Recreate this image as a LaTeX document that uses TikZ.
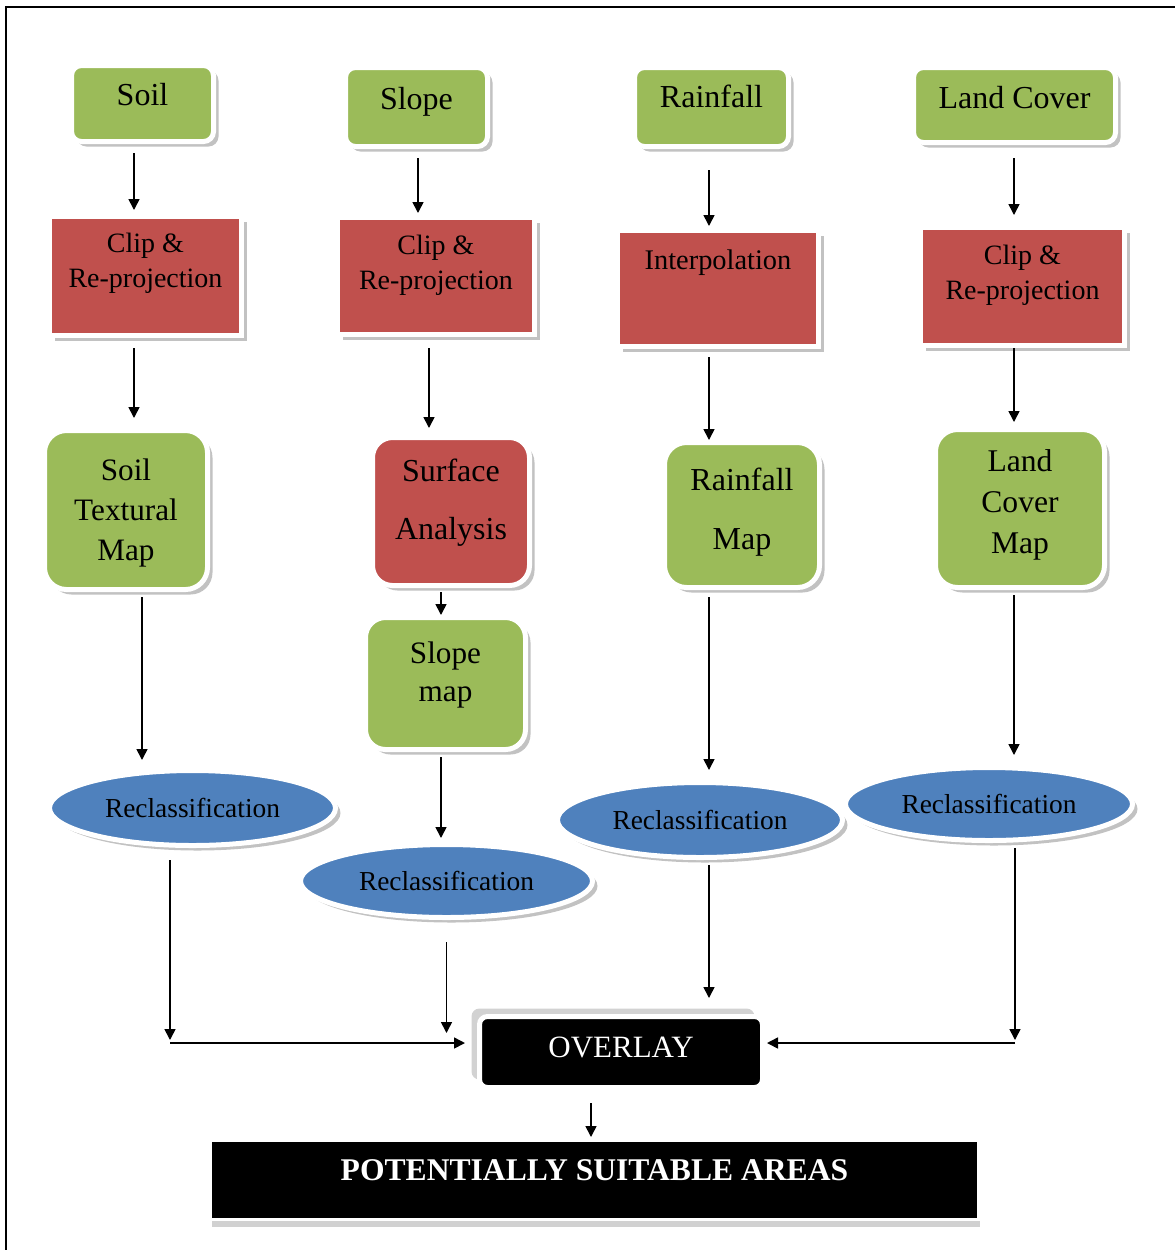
\documentclass[tikz,border=0pt]{standalone}
\usepackage{fontspec}
\setmainfont{Liberation Serif}
\usetikzlibrary{shapes.geometric,shadows,arrows.meta}
\definecolor{boxgreen}{HTML}{9BBB59}
\definecolor{boxred}{HTML}{C0504D}
\definecolor{boxblue}{HTML}{4F81BD}

\begin{document}
\begin{tikzpicture}[
    x=0.5pt, y=-0.5pt,
    base/.style={draw=white, line width=2.5pt, fill=#1, inner sep=0pt},
    box/.style={base=#1, drop shadow={shadow xshift=2.5pt, shadow yshift=-2.5pt,
                fill=black!40, opacity=.6}},
    gbox/.style={box=boxgreen, rounded corners=5pt},
    mbox/.style={box=boxgreen, rounded corners=11pt},
    rbox/.style={box=boxred},
    oval/.style={box=boxblue, ellipse, font=\fontsize{13.7}{16}\selectfont},
    txt/.style={align=center, inner sep=0pt, font=\fontsize{16}{19}\selectfont},
    arr/.style={-{Triangle[length=5.5pt,width=5.5pt]}, line width=0.8pt},
]
\useasboundingbox (0,0) rectangle (1175,1250);
\draw[line width=1pt] (6,1250) -- (6,7) -- (1175,7);

% inputs
\node[gbox, minimum width=71pt, minimum height=38pt,
      label={[txt, yshift=4.25pt]center:Soil}] (soil) at (142.5,103.5) {};
\node[gbox, minimum width=71pt, minimum height=39.5pt,
      label={[txt, yshift=2.5pt]center:Slope}] (slope) at (416.5,107) {};
\node[gbox, minimum width=77pt, minimum height=39.5pt,
      label={[txt, yshift=5.25pt]center:Rainfall}] (rain) at (711.5,107) {};
\node[gbox, minimum width=101pt, minimum height=37.5pt,
      label={[txt, yshift=3.75pt]center:Land Cover}] (land) at (1014.5,105) {};

% pre-processing
\node[rbox, minimum width=96pt, minimum height=59.5pt,
      label={[txt, font=\fontsize{14}{17.5}\selectfont, yshift=6.25pt]center:{Clip \&\\Re-projection}}]
      (clip1) at (145.5,276) {};
\node[rbox, minimum width=98.5pt, minimum height=58.5pt,
      label={[txt, font=\fontsize{14}{17.5}\selectfont, yshift=5.5pt]center:{Clip \&\\Re-projection}}]
      (clip2) at (436,276) {};
\node[rbox, minimum width=100.5pt, minimum height=58pt,
      label={[txt, font=\fontsize{14.2}{17}\selectfont, yshift=13pt]center:Interpolation}]
      (interp) at (718,288.5) {};
\node[rbox, minimum width=102pt, minimum height=59pt,
      label={[txt, font=\fontsize{14}{17.5}\selectfont, yshift=5.75pt]center:{Clip \&\\Re-projection}}]
      (clip4) at (1022.5,286.5) {};

% maps
\node[mbox, minimum width=81.5pt, minimum height=79.5pt,
      label={[txt, font=\fontsize{15.6}{20}\selectfont, yshift=-1.5pt]center:{Soil\\Textural\\Map}}]
      (soilmap) at (126,510) {};
\node[rbox, rounded corners=10pt, minimum width=78.5pt, minimum height=74pt,
      label={[txt, font=\fontsize{16}{29}\selectfont, yshift=4.5pt]center:{Surface\\Analysis}}]
      (surface) at (451,511.5) {};
\node[mbox, rounded corners=10pt, minimum width=80pt, minimum height=66pt,
      label={[txt, font=\fontsize{15.6}{19}\selectfont, yshift=4.25pt]center:{Slope\\map}}]
      (slopemap) at (445.5,683.5) {};
\node[mbox, minimum width=77.5pt, minimum height=72.5pt,
      label={[txt, font=\fontsize{16}{29.5}\selectfont, yshift=1.5pt]center:{Rainfall\\Map}}]
      (rainmap) at (742,515) {};
\node[mbox, minimum width=84.5pt, minimum height=79pt,
      label={[txt, font=\fontsize{15.8}{20.5}\selectfont, yshift=1.75pt]center:{Land\\Cover\\Map}}]
      (landmap) at (1020,508.5) {};

% reclassification
\node[oval, minimum width=143pt, minimum height=37.5pt] (recl1) at (192.5,808) {Reclassification};
\node[oval, minimum width=146pt, minimum height=36.5pt] (recl2) at (446.5,881) {Reclassification};
\node[oval, minimum width=142.5pt, minimum height=37.5pt] (recl3) at (700,820) {Reclassification};
\node[oval, minimum width=143.5pt, minimum height=36.5pt] (recl4) at (989,804) {Reclassification};

% result
\node[base=black, rounded corners=4pt, minimum width=141.5pt, minimum height=35.5pt,
      drop shadow={shadow xshift=-4pt, shadow yshift=4pt, fill=black!35, opacity=.5},
      label={[txt, text=white, font=\fontsize{15.5}{18}\selectfont, yshift=2.25pt]center:OVERLAY}]
      (overlay) at (621,1052) {};
\node[base=black, line width=1.5pt, minimum width=384pt, minimum height=39.5pt,
      drop shadow={shadow xshift=0.5pt, shadow yshift=-3.5pt, fill=black!30, opacity=.6},
      label={[txt, text=white, font=\bfseries\fontsize{15.8}{18}\selectfont, yshift=5pt]center:POTENTIALLY SUITABLE AREAS}]
      (psa) at (594.5,1180) {};

\coordinate (cl) at (170,1043);
\coordinate (cr) at (1015,1043);

\draw[arr, shorten <=4.5pt, shorten >=2pt]   (soil.south -| 134,0)    -- (clip1.north -| 134,0);
\draw[arr, shorten <=4.5pt, shorten >=1pt]   (slope.south -| 418,0)   -- (clip2.north -| 418,0);
\draw[arr, shorten <=10.5pt, shorten >=1pt]  (rain.south -| 709,0)    -- (interp.north -| 709,0);
\draw[arr, shorten <=6.5pt, shorten >=5pt]   (land.south -| 1014,0)   -- (clip4.north -| 1014,0);
\draw[arr, shorten <=5pt, shorten >=5pt]     (clip1.south -| 134,0)   -- (soilmap.north -| 134,0);
\draw[arr, shorten <=5.5pt, shorten >=3.5pt] (clip2.south -| 429,0)   -- (surface.north -| 429,0);
\draw[arr, shorten <=4pt]                    (interp.south -| 709,0)  -- (rainmap.north -| 709,0);
\draw[arr, shorten >=2.5pt]                  (clip4.south -| 1014,0)  -- (landmap.north -| 1014,0);
\draw[arr, shorten <=2pt]                    (surface.south -| 441,0) -- (slopemap.north -| 441,0);
\draw[arr, shorten <=2.5pt, shorten >=4pt]   (soilmap.south -| 142,0) -- (recl1.north -| 142,0);
\draw[arr, shorten <=2.5pt, shorten >=2pt]   (slopemap.south -| 441,0) -- (recl2.north -| 441,0);
\draw[arr, shorten <=3.5pt, shorten >=5pt]   (rainmap.south -| 709,0) -- (recl3.north -| 709,0);
\draw[arr, shorten <=2.5pt, shorten >=5pt]   (landmap.south -| 1014,0) -- (recl4.north -| 1014,0);

% into the overlay
\draw[arr, shorten <=6pt, shorten >=1.5pt]   (recl1.south -| cl) -- (cl);
\draw[arr, shorten >=6pt]                    (cl) -- (cl -| overlay.west);
\draw[arr, shorten <=11pt, shorten >=5pt]    (recl2.south) -- (recl2.south |- cl);
\draw[arr, shorten <=2.5pt, shorten >=8pt]   (recl3.south -| 709,0) -- (overlay.north -| 709,0);
\draw[arr, shorten <=2.5pt, shorten >=1.5pt] (recl4.south -| cr) -- (cr);
\draw[arr, shorten >=1pt]                    (cr) -- (cr -| overlay.east);
\draw[arr, shorten <=6.5pt, shorten >=1pt]   (overlay.south -| 591,0) -- (psa.north -| 591,0);
\end{tikzpicture}
\end{document}
